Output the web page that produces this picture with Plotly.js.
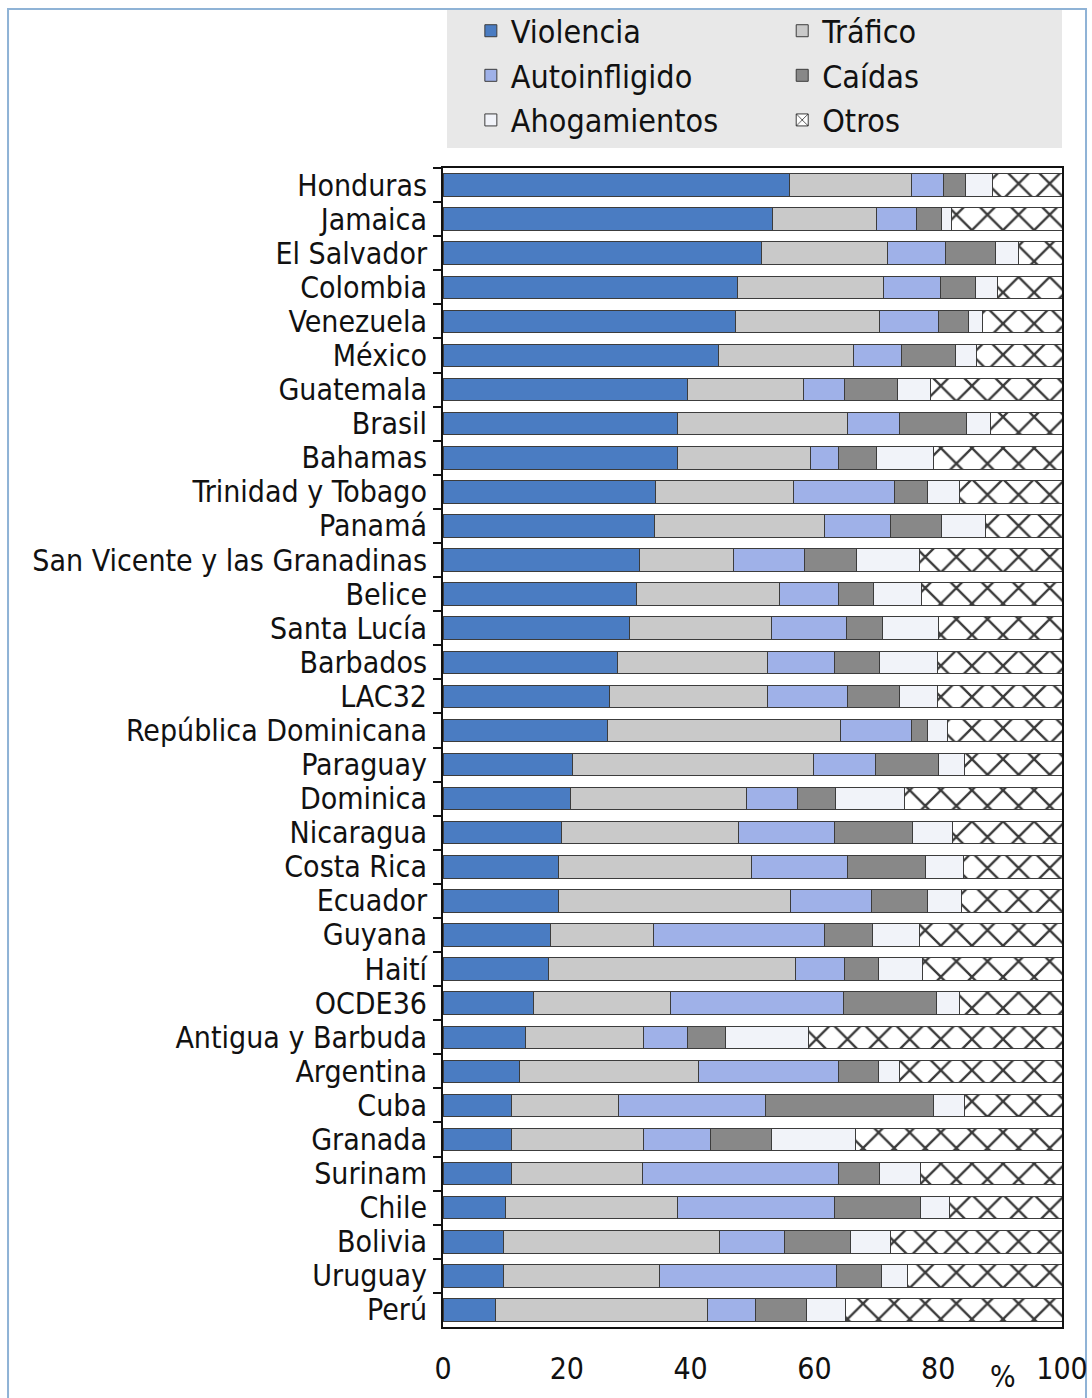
<!DOCTYPE html>
<html>
<head>
<meta charset="utf-8">
<script src="https://cdn.plot.ly/plotly-3.0.1.min.js"></script>
<style>html,body{margin:0;padding:0;background:#fff;}#chart{width:1092px;height:1398px;}</style>
</head>
<body>
<div id="chart"></div>
<script>
const countries = ["Honduras","Jamaica","El Salvador","Colombia","Venezuela","México","Guatemala","Brasil","Bahamas","Trinidad y Tobago","Panamá","San Vicente y las Granadinas","Belice","Santa Lucía","Barbados","LAC32","República Dominicana","Paraguay","Dominica","Nicaragua","Costa Rica","Ecuador","Guyana","Haití","OCDE36","Antigua y Barbuda","Argentina","Cuba","Granada","Surinam","Chile","Bolivia","Uruguay","Perú"];
const violencia     = [55.9,53.2,51.5,47.6,47.3,44.5,39.5,37.9,37.9,34.4,34.2,31.7,31.2,30.2,28.2,26.9,26.5,20.9,20.6,19.2,18.6,18.6,17.4,17.0,14.7,13.3,12.3,11.1,11.1,11.0,10.1,9.8,9.7,8.4];
const trafico       = [19.8,16.8,20.3,23.6,23.2,21.8,18.8,27.4,21.5,22.2,27.5,15.2,23.2,22.9,24.2,25.6,37.7,39.0,28.4,28.6,31.2,37.6,16.6,39.9,22.0,19.1,29.0,17.3,21.3,21.2,27.8,34.8,25.3,34.3];
const autoinfligido = [5.2,6.5,9.4,9.1,9.5,7.8,6.6,8.4,4.5,16.3,10.6,11.5,9.5,12.1,10.8,12.8,11.5,9.9,8.2,15.5,15.5,13.0,27.7,8.0,28.0,7.1,22.6,23.7,10.8,31.7,25.4,10.6,28.5,7.8];
const caidas        = [3.5,4.1,8.0,5.8,4.9,8.7,8.6,10.8,6.1,5.4,8.3,8.4,5.6,5.8,7.3,8.4,2.6,10.3,6.2,12.5,12.7,9.1,7.7,5.5,15.1,6.1,6.4,27.1,9.9,6.6,13.8,10.6,7.3,8.3];
const ahogamientos  = [4.4,1.6,3.8,3.4,2.2,3.4,5.3,4.0,9.2,5.2,7.0,10.2,7.8,9.1,9.4,6.2,3.2,4.2,11.2,6.5,6.1,5.5,7.6,7.1,3.6,13.4,3.4,5.1,13.6,6.6,4.8,6.5,4.2,6.3];
const otros         = [11.2,17.8,7.0,10.5,12.9,13.8,21.2,11.5,20.8,16.5,12.4,23.0,22.7,19.9,20.1,20.1,18.5,15.7,25.4,17.7,15.9,16.2,23.0,22.5,16.6,41.0,26.3,15.7,33.3,22.9,18.1,27.7,25.0,34.9];
const seriesNames = ["Violencia","Tráfico","Autoinfligido","Caídas","Ahogamientos","Otros"];
const xTicks = [0,20,40,60,80,100];

const seriesData = [violencia, trafico, autoinfligido, caidas, ahogamientos, otros];
const colors = ["#4a7cc2","#c9c9c9","#9fb1e8","#888888","#f1f3f9","#ffffff"];
const legendFor = ["legend","legend2","legend","legend2","legend","legend2"];
const FONT = "'DejaVu Sans Condensed', 'Liberation Sans Narrow', sans-serif";

const traces = seriesData.map((vals, i) => {
  const t = {
    type: "bar",
    orientation: "h",
    name: seriesNames[i],
    legend: legendFor[i],
    x: vals,
    y: countries,
    marker: {color: colors[i], line: {color: "#3c3c3c", width: 1}},
    hoverinfo: "x+y+name"
  };
  if (i === 5) {
    t.marker.pattern = {shape: "x", fgcolor: "#3a3a3a", bgcolor: "#ffffff", size: 22, solidity: 0.2};
  }
  return t;
});

const legendBase = {
  orientation: "v",
  yanchor: "top",
  y: 1.142,
  xanchor: "left",
  bgcolor: "rgba(0,0,0,0)",
  font: {family: FONT, size: 32, color: "#111"},
  traceorder: "normal",
  itemclick: false
};

const layout = {
  width: 1092, height: 1398,
  margin: {l: 443, r: 30, t: 168, b: 71, autoexpand: false},
  paper_bgcolor: "#ffffff",
  plot_bgcolor: "#ffffff",
  barmode: "stack",
  bargap: 0.34,
  font: {family: FONT, color: "#111", size: 28},
  showlegend: true,
  legend: Object.assign({}, legendBase, {x: 0.045}),
  legend2: Object.assign({}, legendBase, {x: 0.548}),
  xaxis: {
    range: [0, 100],
    tickvals: xTicks,
    ticktext: xTicks.map(String),
    ticks: "",
    showgrid: false,
    zeroline: false,
    showline: true, linecolor: "#111", linewidth: 2, mirror: true,
    tickfont: {family: FONT, size: 30, color: "#111"},
    ticklabelstandoff: 14,
    fixedrange: true
  },
  yaxis: {
    type: "category",
    autorange: "reversed",
    tickmode: "linear", tick0: 0, dtick: 1,
    ticks: "outside", tickson: "boundaries", ticklen: 8, tickwidth: 2, tickcolor: "#111",
    ticklabelstandoff: 8,
    showgrid: false,
    showline: true, linecolor: "#111", linewidth: 2, mirror: true,
    tickfont: {family: FONT, size: 30, color: "#111"},
    fixedrange: true
  },
  shapes: [
    {type: "rect", xref: "paper", yref: "paper", x0: 0.0065, x1: 1.0, y0: 1.0173, y1: 1.1363,
     fillcolor: "#e8e8e8", line: {width: 0}, layer: "below"},
    {type: "rect", xref: "paper", yref: "paper", x0: -0.7027, x1: 1.0388, y0: -0.08, y1: 1.1372,
     fillcolor: "rgba(0,0,0,0)", line: {color: "#8fb3d6", width: 2}, layer: "below"}
  ],
  annotations: [
    {text: "%", xref: "paper", yref: "paper", x: 0.905, y: -0.0423, xanchor: "center", yanchor: "middle",
     showarrow: false, font: {family: FONT, size: 30, color: "#111"}}
  ]
};

Plotly.newPlot("chart", traces, layout, {displayModeBar: false, staticPlot: true});
</script>
</body>
</html>
